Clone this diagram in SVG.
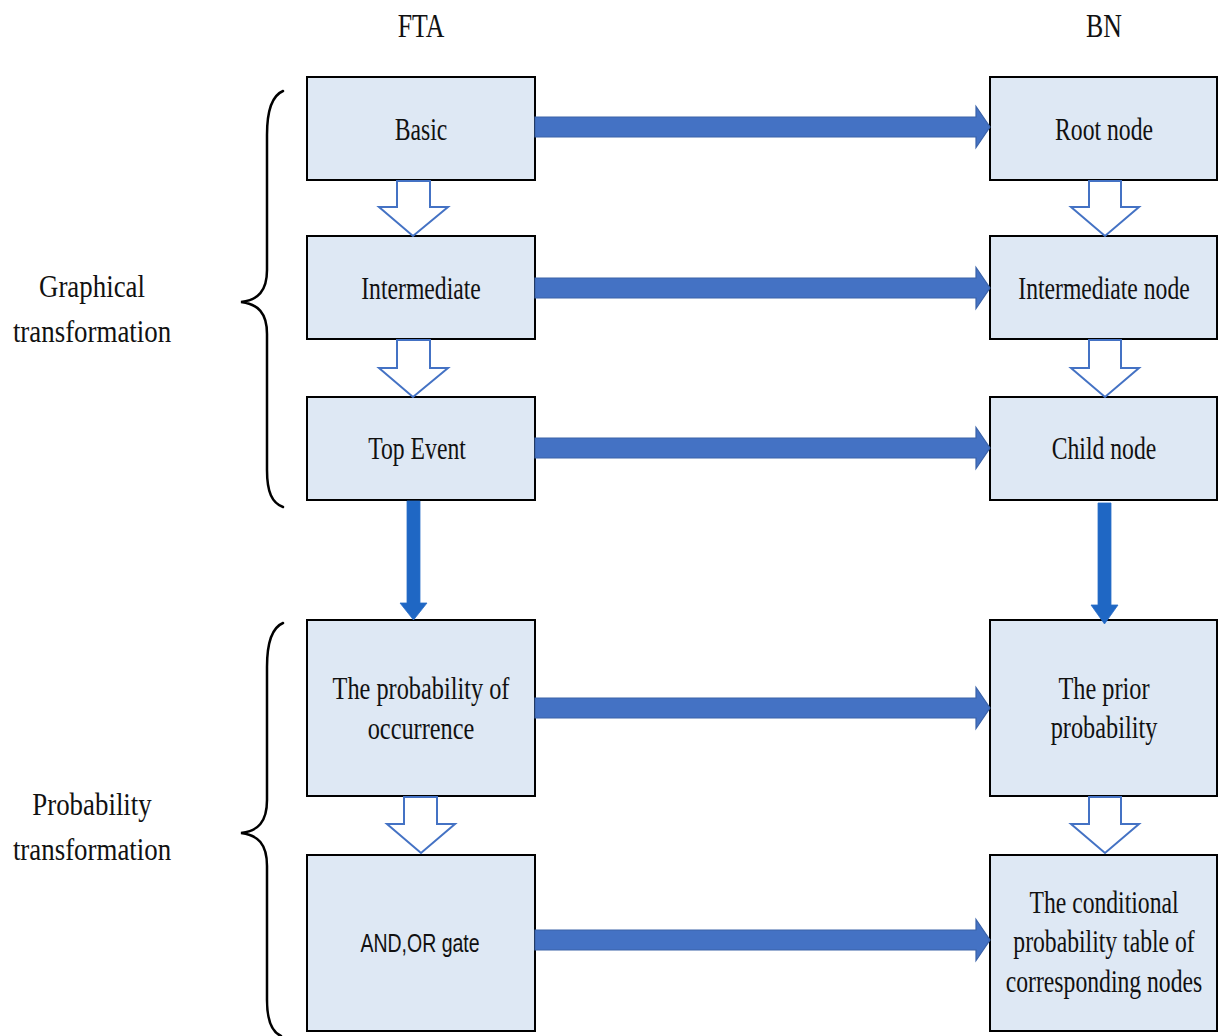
<svg xmlns="http://www.w3.org/2000/svg" width="1221" height="1036" viewBox="0 0 1221 1036">
  <style>
    .box { fill: #dee8f4; stroke: #000; stroke-width: 2; }
    .t { font-family: "Liberation Serif", "Times New Roman", serif; font-size: 32px; fill: #111; text-anchor: middle; }
    .hdr { font-family: "Liberation Serif", "Times New Roman", serif; font-size: 34px; fill: #111; text-anchor: middle; }
    .side { font-family: "Liberation Serif", "Times New Roman", serif; font-size: 32px; fill: #111; text-anchor: middle; }
    .sans { font-family: "Liberation Sans", Arial, sans-serif; font-size: 25px; fill: #111; text-anchor: middle; }
    .flow { fill: #4472c4; stroke: #3a62a8; stroke-width: 1.2; }
    .down { fill: #1f67c4; stroke: #2a6fc9; stroke-width: 0.8; }
    .hollow { fill: #fff; stroke: #4472c4; stroke-width: 2; stroke-linejoin: miter; }
    .brace { fill: none; stroke: #000; stroke-width: 2.5; stroke-linecap: round; }
  </style>
  <defs>
    <!-- horizontal block arrow, drawn from x=0 to x=455 around y=0 -->
    <path id="harrow" d="M0,-10 L441,-10 L441,-20.5 L455,0 L441,20.5 L441,10 L0,10 Z"/>
  </defs>

  <rect width="1221" height="1036" fill="#fff"/>

  <!-- column headers -->
  <g id="hdr-fta"><text class="hdr" transform="translate(421,37) scale(0.76,1)">FTA</text></g>
  <g id="hdr-bn"><text class="hdr" transform="translate(1104,37) scale(0.76,1)">BN</text></g>

  <!-- side labels and braces -->
  <g id="label-graphical">
    <text class="side" transform="translate(92,297) scale(0.84,1)">Graphical</text>
    <text class="side" transform="translate(92,342) scale(0.84,1)">transformation</text>
    <path class="brace" d="M283,91 C271,96 267,112 267,135 L267,270 C267,291 258,300 241,302 C258,304 267,313 267,334 L267,470 C267,492 272,503 283,507"/>
  </g>
  <g id="label-probability">
    <text class="side" transform="translate(92,815) scale(0.84,1)">Probability</text>
    <text class="side" transform="translate(92,860) scale(0.84,1)">transformation</text>
    <path class="brace" d="M283,623 C271,628 267,644 267,667 L267,800 C267,822 258,831 241,833 C258,835 267,844 267,866 L267,1000 C267,1022 272,1032 281,1036"/>
  </g>

  <!-- FTA column -->
  <g id="fta-basic">
    <rect class="box" x="307" y="77" width="228" height="103"/>
    <text class="t" transform="translate(421,140) scale(0.74,1)">Basic</text>
  </g>
  <g id="fta-intermediate">
    <rect class="box" x="307" y="236" width="228" height="103"/>
    <text class="t" transform="translate(421,299) scale(0.74,1)">Intermediate</text>
  </g>
  <g id="fta-top">
    <rect class="box" x="307" y="397" width="228" height="103"/>
    <text class="t" transform="translate(417,459) scale(0.74,1)">Top Event</text>
  </g>
  <g id="fta-probability">
    <rect class="box" x="307" y="620" width="228" height="176"/>
    <text class="t" transform="translate(421,699) scale(0.76,1)">The probability  of</text>
    <text class="t" transform="translate(421,739) scale(0.76,1)">occurrence</text>
  </g>
  <g id="fta-gate">
    <rect class="box" x="307" y="855" width="228" height="176"/>
    <text class="sans" transform="translate(420,952) scale(0.78,1)">AND,OR gate</text>
  </g>

  <!-- BN column -->
  <g id="bn-root">
    <rect class="box" x="990" y="77" width="227" height="103"/>
    <text class="t" transform="translate(1104,140) scale(0.74,1)">Root node</text>
  </g>
  <g id="bn-intermediate">
    <rect class="box" x="990" y="236" width="227" height="103"/>
    <text class="t" transform="translate(1104,299) scale(0.74,1)">Intermediate node</text>
  </g>
  <g id="bn-child">
    <rect class="box" x="990" y="397" width="227" height="103"/>
    <text class="t" transform="translate(1104,459) scale(0.74,1)">Child node</text>
  </g>
  <g id="bn-prior">
    <rect class="box" x="990" y="620" width="227" height="176"/>
    <text class="t" transform="translate(1104,699) scale(0.76,1)">The prior</text>
    <text class="t" transform="translate(1104,738) scale(0.76,1)">probability</text>
  </g>
  <g id="bn-cpt">
    <rect class="box" x="990" y="855" width="227" height="176"/>
    <text class="t" transform="translate(1104,913) scale(0.74,1)">The conditional</text>
    <text class="t" transform="translate(1104,952) scale(0.74,1)">probability table of</text>
    <text class="t" transform="translate(1104,992) scale(0.74,1)">corresponding nodes</text>
  </g>

  <!-- connectors -->
  <g id="connectors">
    <!-- FTA to BN mappings -->
    <use href="#harrow" class="flow" transform="translate(535,127)"/>
    <use href="#harrow" class="flow" transform="translate(535,288)"/>
    <use href="#harrow" class="flow" transform="translate(535,448)"/>
    <use href="#harrow" class="flow" transform="translate(535,708)"/>
    <use href="#harrow" class="flow" transform="translate(535,940)"/>

    <!-- hollow step arrows inside each column -->
    <path class="hollow" d="M397,181 L430,181 L430,207 L448,207 L413,236 L379,207 L397,207 Z"/>
    <path class="hollow" d="M397,340 L430,340 L430,368 L448,368 L413,397 L379,368 L397,368 Z"/>
    <path class="hollow" d="M1089,181 L1121,181 L1121,207 L1139,207 L1105,236 L1071,207 L1089,207 Z"/>
    <path class="hollow" d="M1089,340 L1121,340 L1121,368 L1139,368 L1105,397 L1071,368 L1089,368 Z"/>
    <path class="hollow" d="M404,797 L437,797 L437,824 L455,824 L421,853 L387,824 L404,824 Z"/>
    <path class="hollow" d="M1089,797 L1121,797 L1121,824 L1139,824 L1105,853 L1071,824 L1089,824 Z"/>

    <!-- from graphical to probability stage -->
    <path class="down" d="M407,501 L420,501 L420,603 L427,603 L413.5,620 L400,603 L407,603 Z"/>
    <path class="down" d="M1098,503 L1111,503 L1111,605 L1118,605 L1104.5,624 L1091,605 L1098,605 Z"/>
  </g>
</svg>
